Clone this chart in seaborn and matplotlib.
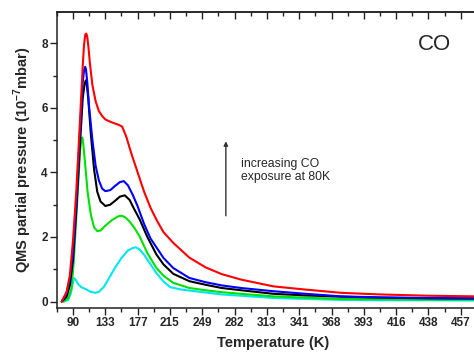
import matplotlib
matplotlib.use("Agg")
import matplotlib.pyplot as plt
import seaborn as sns
from matplotlib.ticker import MultipleLocator

sns.set_style("ticks")
plt.rcParams["font.family"] = ["Liberation Sans", "DejaVu Sans"]
plt.rcParams["mathtext.fontset"] = "custom"
plt.rcParams["mathtext.rm"] = "Liberation Sans:bold"
plt.rcParams["mathtext.bf"] = "Liberation Sans:bold"

# x axis is in tick-index units; each major tick is labelled with its temperature
temp_labels = ["90", "133", "177", "215", "249", "282", "313", "341",
               "368", "393", "416", "438", "457"]

red_x = [-0.35, -0.2, -0.1, 0.0, 0.1, 0.2, 0.3, 0.34, 0.38, 0.41, 0.44, 0.48, 0.52, 0.6, 0.7,
         0.8, 0.9, 1.0, 1.2, 1.4, 1.52, 1.65, 1.8, 2.0, 2.2, 2.4, 2.6, 2.8, 3.1, 3.6, 4.1,
         4.6, 5.2, 6.2, 7.2, 8.3, 9.5, 11.0, 12.5]
red_y = [0.0, 0.3, 0.8, 1.9, 3.4, 5.3, 7.3, 7.95, 8.27, 8.3, 8.2, 7.85, 7.4, 6.7, 6.2,
         5.9, 5.75, 5.64, 5.55, 5.48, 5.42, 5.1, 4.6, 4.0, 3.4, 2.9, 2.5, 2.15, 1.82, 1.36, 1.06,
         0.85, 0.68, 0.47, 0.37, 0.27, 0.22, 0.18, 0.16]

blue_x = [-0.35, -0.2, -0.1, 0.0, 0.1, 0.2, 0.3, 0.34, 0.375, 0.4, 0.44, 0.5, 0.6, 0.7, 0.8,
          0.9, 1.0, 1.15, 1.3, 1.45, 1.57, 1.7, 1.85, 2.0, 2.2, 2.4, 2.6, 2.8, 3.1, 3.6, 4.1,
          4.6, 5.2, 6.2, 7.2, 8.3, 9.5, 11.0, 12.5]
blue_y = [0.0, 0.25, 0.7, 1.5, 3.0, 5.0, 6.8, 7.15, 7.27, 7.2, 6.8, 6.0, 5.0, 4.2, 3.75,
          3.5, 3.42, 3.45, 3.58, 3.7, 3.73, 3.6, 3.3, 2.95, 2.4, 1.95, 1.65, 1.35, 1.04, 0.73, 0.6,
          0.5, 0.42, 0.32, 0.24, 0.16, 0.13, 0.11, 0.1]

black_x = [-0.35, -0.2, -0.1, 0.0, 0.1, 0.2, 0.3, 0.36, 0.395, 0.42, 0.47, 0.55, 0.65, 0.75,
           0.85, 1.0, 1.15, 1.3, 1.45, 1.6, 1.75, 1.9, 2.06, 2.3, 2.58, 2.8, 3.1, 3.6, 4.1,
           4.6, 5.2, 6.2, 7.2, 8.3, 9.5, 11.0, 12.5]
black_y = [0.0, 0.15, 0.5, 1.3, 2.8, 4.6, 6.3, 6.75, 6.85, 6.78, 6.3, 5.2, 4.1, 3.4,
           3.1, 2.96, 3.0, 3.12, 3.25, 3.29, 3.15, 2.85, 2.55, 2.0, 1.46, 1.15, 0.86, 0.63, 0.52,
           0.42, 0.35, 0.24, 0.19, 0.15, 0.12, 0.1, 0.09]

green_x = [-0.3, -0.15, -0.05, 0.02, 0.1, 0.18, 0.22, 0.26, 0.29, 0.32, 0.38, 0.45, 0.55,
           0.65, 0.75, 0.85, 1.0, 1.2, 1.4, 1.5, 1.6, 1.75, 1.9, 2.06, 2.3, 2.58, 2.8, 3.1,
           3.6, 4.1, 4.6, 5.2, 6.2, 7.2, 8.3, 9.5, 11.0, 12.5]
green_y = [0.0, 0.1, 0.4, 1.2, 2.6, 4.0, 4.7, 5.05, 5.08, 4.85, 4.2, 3.4, 2.7,
           2.3, 2.18, 2.2, 2.35, 2.52, 2.64, 2.66, 2.62, 2.48, 2.28, 2.02, 1.5, 1.04, 0.8, 0.58,
           0.42, 0.35, 0.29, 0.24, 0.16, 0.12, 0.08, 0.07, 0.06, 0.06]

cyan_x = [-0.28, -0.15, -0.07, 0.0, 0.03, 0.08, 0.15, 0.25, 0.4, 0.55, 0.69, 0.8, 0.95,
          1.1, 1.3, 1.5, 1.7, 1.85, 1.94, 2.05, 2.2, 2.4, 2.58, 2.8, 3.0, 3.3, 3.6, 4.1,
          4.6, 5.2, 6.2, 7.2, 8.3, 9.5, 11.0, 12.5]
cyan_y = [0.0, 0.05, 0.25, 0.6, 0.72, 0.68, 0.55, 0.45, 0.38, 0.3, 0.27, 0.3, 0.45,
          0.7, 1.05, 1.35, 1.58, 1.66, 1.68, 1.62, 1.45, 1.15, 0.88, 0.62, 0.45, 0.38, 0.34, 0.28,
          0.22, 0.18, 0.11, 0.08, 0.05, 0.04, 0.04, 0.03]

series = [
    (cyan_x, cyan_y, "#00e5ee"),
    (green_x, green_y, "#00e000"),
    (black_x, black_y, "black"),
    (blue_x, blue_y, "#0000ff"),
    (red_x, red_y, "#ff0000"),
]

fig = plt.figure(figsize=(4.74, 3.52), dpi=100)
ax = fig.add_axes([0.120, 0.125, 0.88, 0.841])

for xs, ys, col in series:
    sns.lineplot(x=xs, y=ys, color=col, linewidth=1.5, ax=ax, sort=False)

ax.set_xlim(-0.5, 12.41)
ax.set_ylim(-0.2, 8.97)

ax.set_xticks(range(len(temp_labels)))
ax.set_xticklabels(temp_labels)
ax.xaxis.set_minor_locator(MultipleLocator(0.5))
ax.yaxis.set_major_locator(MultipleLocator(2))
ax.yaxis.set_minor_locator(MultipleLocator(1))

for lab in ax.get_xticklabels() + ax.get_yticklabels():
    lab.set_fontweight("bold")
    lab.set_fontsize(8.5)

ax.tick_params(axis="both", which="major", direction="out", length=5, width=1, pad=1.5, color="#222222")
ax.tick_params(axis="both", which="minor", direction="out", length=3, width=1, color="#222222")
ax.spines["right"].set_visible(False)
for s in ["left", "bottom", "top"]:
    ax.spines[s].set_linewidth(1.1)
    ax.spines[s].set_color("#222222")

top = ax.secondary_xaxis("top")
top.set_xticks(range(len(temp_labels)))
top.xaxis.set_minor_locator(MultipleLocator(0.5))
top.tick_params(axis="x", which="major", direction="in", length=5, width=1, labeltop=False, color="#222222")
top.tick_params(axis="x", which="minor", direction="in", length=3, width=1, color="#222222")
top.spines["top"].set_linewidth(1.1)

ax.set_xlabel("Temperature (K)", fontsize=10.5, fontweight="bold")
ax.xaxis.set_label_coords(0.518, -0.095)
ax.set_ylabel(r"QMS partial pressure (10$^{-7}$mbar)", fontsize=10.5, fontweight="bold", labelpad=5)

ax.text(10.67, 7.97, "CO", fontsize=16, ha="left", va="center")
ax.annotate("", xy=(4.73, 5.05), xytext=(4.73, 2.57),
            arrowprops=dict(arrowstyle="-|>", color="#333333", lw=1, mutation_scale=6))
ax.text(5.21, 4.45, "increasing CO\nexposure at 80K", fontsize=8.8, ha="left", va="top",
        linespacing=1.15)

fig.savefig("out.png", dpi=100)
